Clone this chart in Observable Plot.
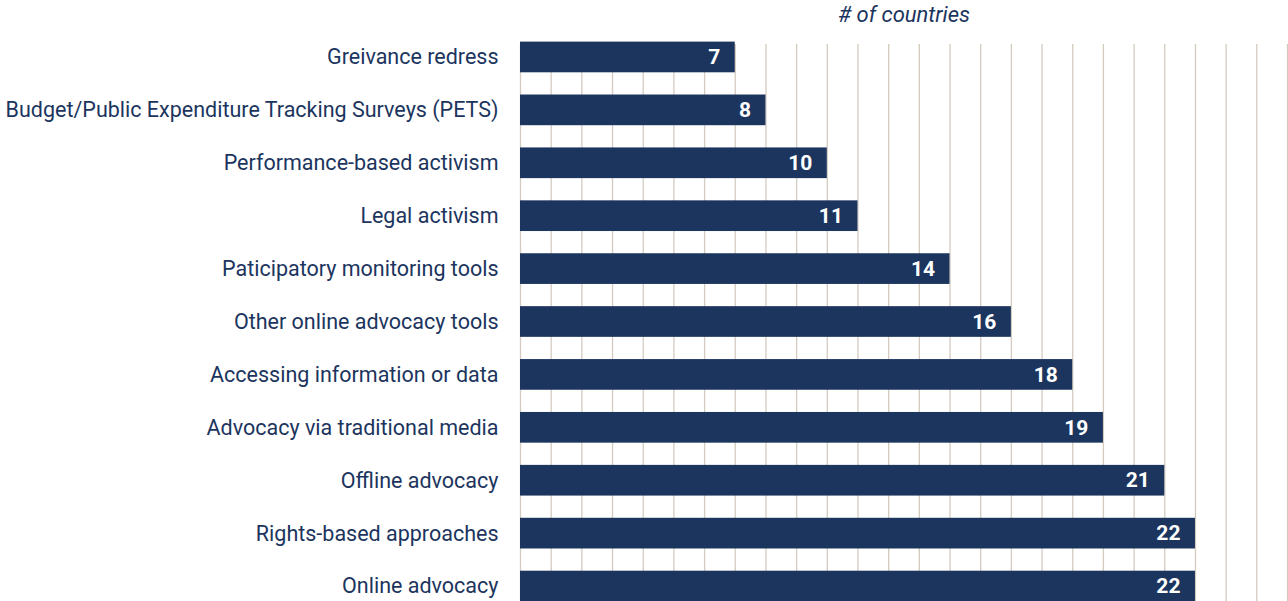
<!DOCTYPE html>
<html><head><meta charset="utf-8">
<script src="https://cdn.jsdelivr.net/npm/d3@7"></script>
<script src="https://cdn.jsdelivr.net/npm/@observablehq/plot@0.6"></script>
<style>
body{margin:0;background:#fff;}
svg{font-family:Roboto,sans-serif;}
</style></head>
<body><div id="chart"></div>
<script>
const categories = ["Greivance redress","Budget/Public Expenditure Tracking Surveys (PETS)","Performance-based activism","Legal activism","Paticipatory monitoring tools","Other online advocacy tools","Accessing information or data","Advocacy via traditional media","Offline advocacy","Rights-based approaches","Online advocacy"];
const values = [7,8,10,11,14,16,18,19,21,22,22];
const gridTicks = d3.range(0, 26);
const xLabel = "# of countries";
const data = categories.map((c,i)=>({category:c, value:values[i]}));
const navy = "#1c355e";
const plot = Plot.plot({
  width: 1288, height: 601,
  marginLeft: 520, marginRight: 1, marginTop: 30.5, marginBottom: -11.5,
  style: {fontFamily: "Roboto, sans-serif", background: "#fff", overflow: "hidden"},
  x: {domain: [0, 25], axis: null},
  y: {domain: categories, paddingInner: 0.42, paddingOuter: 0.21, round: false, axis: null},
  marks: [
    Plot.ruleX(gridTicks, {x: d=>d, stroke: "#d4cbbf", strokeWidth: 1.3, insetTop: 13.5}),
    Plot.barX(data, {y: "category", x: "value", fill: navy}),
    Plot.axisY({tickSize: 0, tickPadding: 22, fontSize: 21.5, color: navy, fill: navy, label: null}),
    Plot.text(data, {y: "category", x: "value", text: d=>String(d.value), textAnchor: "end", dx: -15, fill: "#fff", fontWeight: "bold", fontSize: 21}),
    Plot.text([xLabel], {frameAnchor: "top", dy: -25, fontStyle: "italic", fontSize: 22, fill: navy})
  ]
});
document.getElementById("chart").append(plot);
</script></body></html>
